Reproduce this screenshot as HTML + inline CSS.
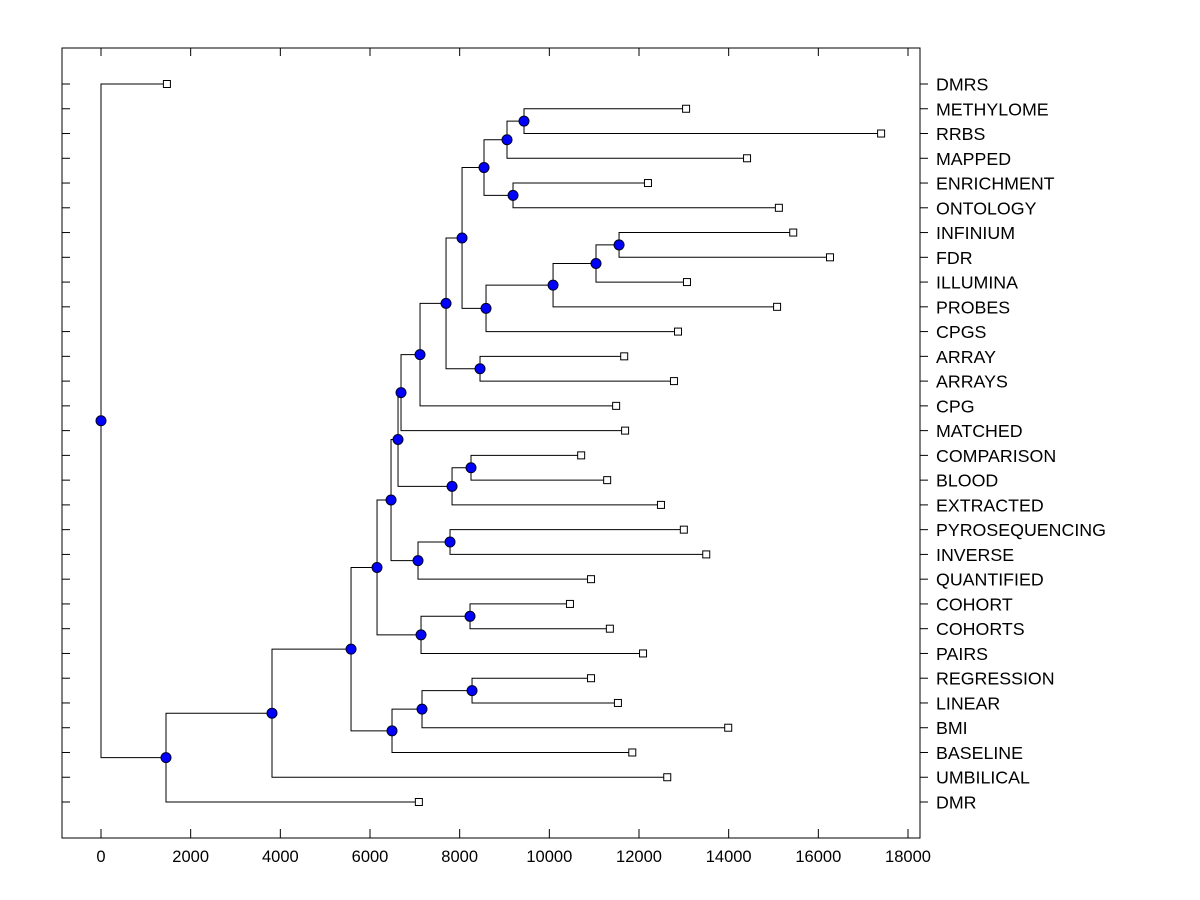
<!DOCTYPE html>
<html><head><meta charset="utf-8"><style>
body{margin:0;background:#fff;}
svg{display:block;font-family:"Liberation Sans",Arial,sans-serif;}
</style></head><body>
<svg id="chart" width="1200" height="900">
<rect x="62" y="48" width="858" height="790" fill="none" stroke="#000" stroke-width="1"/>
<g id="ticks"></g>
<g id="links"></g>
<g id="marks"></g>
<g id="labels"></g>
</svg>
<script>
const leafNames = ["DMRS","METHYLOME","RRBS","MAPPED","ENRICHMENT","ONTOLOGY","INFINIUM","FDR","ILLUMINA","PROBES","CPGS","ARRAY","ARRAYS","CPG","MATCHED","COMPARISON","BLOOD","EXTRACTED","PYROSEQUENCING","INVERSE","QUANTIFIED","COHORT","COHORTS","PAIRS","REGRESSION","LINEAR","BMI","BASELINE","UMBILICAL","DMR"];
const leafValues = [1470,13050,17400,14410,12200,15120,15440,16260,13070,15080,12870,11670,12780,11490,11690,10710,11290,12490,13000,13500,10930,10460,11350,12090,10930,11530,13990,11850,12630,7090];
// merges: [childA, childB, height]; numbers >= 100 refer to merge (index-100)
const mergeChildA = ["METHYLOME",100,"ENRICHMENT",101,"INFINIUM",104,105,106,103,"ARRAY",108,110,111,"COMPARISON",113,112,"PYROSEQUENCING",116,115,"COHORT",119,118,"REGRESSION",122,123,121,125,126,"DMRS"];
const mergeChildB = ["RRBS","MAPPED","ONTOLOGY",102,"FDR","ILLUMINA","PROBES","CPGS",107,"ARRAYS",109,"CPG","MATCHED","BLOOD","EXTRACTED",114,"INVERSE","QUANTIFIED",117,"COHORTS","PAIRS",120,"LINEAR","BMI","BASELINE",124,"UMBILICAL","DMR",127];
const mergeHeights = [9435,9056,9190,8543,11555,11041,10083,8588,8053,8454,7696,7116,6692,8253,7830,6625,7785,7071,6469,8231,7138,6157,8276,7160,6491,5577,3814,1450,0];
const xTicks = [0,2000,4000,6000,8000,10000,12000,14000,16000,18000];

const NS="http://www.w3.org/2000/svg";
const X0=101, X1=908, V1=18000;
const xs = v => X0 + (X1-X0)*v/V1;
const rowY = i => 84 + i*(802-84)/29;
function el(tag, attrs, parent){const e=document.createElementNS(NS,tag);for(const k in attrs)e.setAttribute(k,attrs[k]);parent.appendChild(e);return e;}
const ticks=document.getElementById('ticks'), links=document.getElementById('links'), marks=document.getElementById('marks'), labels=document.getElementById('labels');

xTicks.forEach(t=>{
  const x=xs(t);
  const a=el('line',{x1:x,x2:x,y1:829,y2:838,stroke:'#000'},ticks);
  
  
  const b=el('line',{x1:x,x2:x,y1:48,y2:56,stroke:'#000'},ticks);
  
  
  const tx=el('text',{x:x,y:862,'text-anchor':'middle','font-size':'16.5'},ticks);
  tx.textContent=t;
  
  
});

const pos={};
leafNames.forEach((n,i)=>{pos[n]={x:xs(leafValues[i]),y:rowY(i)};
  const l=el('line',{x1:62,x2:70,y1:rowY(i),y2:rowY(i),stroke:'#000'},ticks);
  
  
  const r=el('line',{x1:920,x2:928,y1:rowY(i),y2:rowY(i),stroke:'#000'},ticks);
  
  
  const t=el('text',{x:936,y:rowY(i)+6.5,'font-size':'17.8'},labels);
  t.textContent=n;
  
  
});
const getP = c => typeof c==='number' ? pos['#'+(c-100)] : pos[c];
const nodes=[];
mergeHeights.forEach((h,k)=>{
  const a=getP(mergeChildA[k]), b=getP(mergeChildB[k]);
  if(!a||!b) return;
  const x=xs(h), y=(a.y+b.y)/2;
  pos['#'+k]={x:x,y:y};
  const p=el('path',{d:`M${a.x},${a.y}H${x}V${b.y}H${b.x}`,fill:'none',stroke:'#000','stroke-width':1},links);
  
  
  nodes.push({x:x,y:y});
});
leafNames.forEach(n=>{
  const q=pos[n];
  const r=el('rect',{x:q.x-3.5,y:q.y-3.5,width:7,height:7,fill:'#fff',stroke:'#000'},marks);
  
  
});
nodes.forEach(q=>{
  const c=el('circle',{cx:q.x,cy:q.y,r:5,fill:'#0000ff',stroke:'#000022','stroke-width':1},marks);
  
  
});
</script>
</body></html>
